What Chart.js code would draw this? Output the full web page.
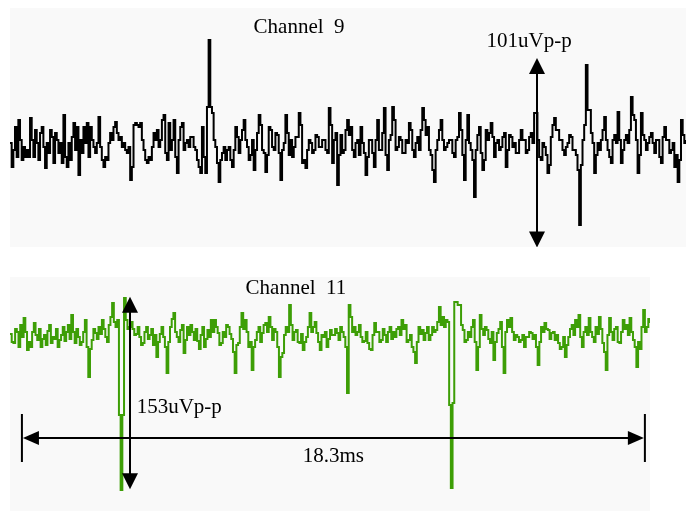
<!DOCTYPE html>
<html>
<head>
<meta charset="utf-8">
<script src="https://cdn.jsdelivr.net/npm/chart.js@4/dist/chart.umd.min.js"></script>
<style>
  body { margin: 0; background: #fff; width: 686px; height: 511px; position: relative; overflow: hidden; }
  .panel { position: absolute; background: #f9f9f9; }
  #p9 { left: 10px; top: 8px; width: 676px; height: 239px; }
  #p11 { left: 10px; top: 277px; width: 640px; height: 234px; }
</style>
</head>
<body>
<div class="panel" id="p9"><canvas id="ch9"></canvas></div>
<div class="panel" id="p11"><canvas id="ch11"></canvas></div>
<script>
// sample step in ms
const DT = 0.05;

// channel 9 amplitude (baseline = 0)
const ch9 = [
  2, -22, -5, 18, -12, 25, 5, -15, -2, -12, -5, -12, 27, 5, -12, 15, 2, -15, 12, 18,
  -2, -23, 2, -8, 15, 8, -18, 12, 5, -8, 2, -18, 30, -12, -22, 2, -15, 8, 22, -5,
  18, -30, 5, -8, 18, 2, 22, -12, 18, 5, -2, -8, 2, 28, -2, -15, -22, -12, -15, 2,
  12, 5, 18, 23, 12, 5, 8, -2, 2, -5, -8, -2, -35, -22, 20, 22, 20, 18, 22, 5,
  -5, -15, -18, -12, -15, -2, 12, 5, 15, -2, 5, 25, 30, -8, -15, 22, -5, 5, 25, -12,
  -28, 5, 18, 22, -5, 2, 5, -2, 8, 8, -2, -5, -15, -22, -28, 18, -12, -28, 38, 105,
  38, 32, 5, -2, -18, -37, -15, -8, -2, -15, -5, -2,
  -15, -22, -5, 18, 8, -8, 5, 15, 25, 5, -2, -15, -10, 5, -25, -5, 12, 30, 20, -5,
  -8, -27, -10, 18, 15, -2, -5, 12, 10, -8, -35, -5, 2, 30, 12, -10, 5, -12, -2, 8,
  8, 32, 20, -18, -15, -23, -5, 5, 2, -8, -5, 10, 8, -2, -2, 5, 5, -5, -8, 37,
  20, -18, 5, 12, -40, -10, 10, -8, -5, 15, 25, 10, 18, -5, -12, 2, 5, -10, 18, 2,
  -8, -30, -12, 5, 5, -8, -22, 5, 25, -5, -5, 12, 37, -10, -25, 5, 10, 38, 25, -5,
  -2, 8, 5, -8, -8, 5, 2, 22, 15, -5, -12, 2, 8, -5, 15, 37, 25, 10, 18, -5,
  -10, -25, -37, -5, 5, 15, 25, 5, -5, -2, 2, 5,
  5, -8, -12, 5, 8, 32, 15, -10, -35, 5, 30, 2, -5, -15, -52, -5, 10, 18, -8, -25,
  -15, 15, 5, 12, 22, 8, -12, 2, 5, -5, -2, 8, 12, -22, -5, 10, 8, -2, 2, -8,
  -8, 5, 15, 5, 5, -8, -5, 8, 12, 2, 32, 32, 5, -12, -15, 2, -2, -10, -28, -20,
  8, 20, 27, 15, 15, 5, 5, -5, -10, -2, 2, 10, 8, -5, -5, -10, -25, -80, -20, 5,
  20, 80, 35, 35, 12, 2, -28, -10, 2, -5, 5, 15, 28, 5, -5, -12, -18, 5, 10, 2,
  33, 5, -18, -5, 5, 10, 2, 15, 48, 30, 25, 5, -28, -10, 32, 10, 5, -5, 2, 8,
  12, 2, -8, 5, 5, -12, -18, 8, 18, 5, 5, -8, -5, 2, -22, -10, -37, -15, 25, 10,
  2, 5
];

// channel 11 amplitude
const ch11 = [
  3, -5, -6, 8, 5, -10, 12, 0, 19, 5, -13, -5, -10, 5, 14, 2, -3, 8, -10, -2,
  2, -8, 6, 12, -6, 0, -2, 8, -10, -3, 2, 10, -4, 5, 12, -2, 22, 5, -6, 8,
  0, -8, -5, 5, 17, -10, -40, -12, -3, 8, 4, -2, 10, 3, 17, 8, 0, -5, 12, 20,
  34, 15, 10, 17, -78, -153, -78, 39, 17, 8, 10, 15, 8, 2, 3, 10, 0, -8, -6, 5,
  10, -2, 2, 8, -8, 2, -20, -5, 3, 10, 0, -10, -36, -5, 10, 18, 24, 5, 0, -5,
  7, 12, -16, -3, 10, 2, 12, 5, -3, 8, -4, -12, 2, 10, -10, -2, 7, 0, 17, 5,
  17, 10, 4, -8, -6, 5, 0, 12, 10, 3,
  -2, -15, -36, -8, -6, 10, 24, 8, 17, 5, -10, -5, -33, -10, -3, 5, 10, -5, 4, 12,
  14, 5, 20, 10, -3, 8, 5, -10, -40, -20, -16, 2, 10, 5, 32, 12, -3, 5, 7, -5,
  -6, 3, -13, -5, 0, 10, 24, 5, 10, 15, 4, -5, -13, 2, 0, 5, -10, -2, 7, 2,
  2, 8, 4, -3, 10, 5, 0, -10, -56, 32, 20, 5, 10, 2, 5, 12, 0, -5, -4, 5,
  -6, -12, -13, 2, 14, 5, 5, -5, -3, 8, 2, -5, 5, 10, -2, 5, 0, 8, 10, 2,
  17, 8, 12, -5, -3, 2, -10, -15, -26, -5, 10, 3, 7, -3, 4, 10, -3, 2, 10, 5,
  7, 15, 30, 12, 20, 10, 17, 15,
  -68, -151, -66, 35, 35, 32, 32, 12, 7, -5, -3, 5, 0, 10, 17, -5, -33, -10, 22, 8,
  2, 10, 7, -2, -6, 5, -23, -5, 4, 8, 15, -10, -36, 5, 17, 10, 19, 5, -3, 2,
  0, -5, -3, 2, -10, 0, 0, 5, 4, -2, 2, -10, -28, -5, 10, 5, 14, 8, 7, -2,
  4, 5, -3, 2, -6, -12, -10, 0, -20, -8, 0, 8, 12, 2, 17, 10, 22, 0, -10, 5,
  10, 2, 19, 5, 0, -5, 10, 3, 20, 8, -6, -15, -33, 2, 19, 5, -3, 8, 10, -5,
  -6, 5, 17, 8, 12, 2, 19, 5, -3, -10, -30, -5, -12, 10, 27, 5, 10, 18, 14
];

const ch9Title = 'Channel  9';
const ch11Title = 'Channel  11';
const ch9Span = '101uVp-p';
const ch11Span = '153uVp-p';
const timeSpan = 18.3; // ms
const timeStart = 0.35;

const FONT = '21px "Liberation Serif", "Times New Roman", serif';

function head(ctx, tx, ty, dx, dy, len, half) {
  ctx.beginPath();
  ctx.moveTo(tx, ty);
  ctx.lineTo(tx - dx * len - dy * half, ty - dy * len + dx * half);
  ctx.lineTo(tx - dx * len + dy * half, ty - dy * len - dx * half);
  ctx.closePath();
  ctx.fill();
}

const marksPlugin = {
  id: 'marks',
  afterDatasetsDraw(chart, args, opts) {
    const { ctx } = chart;
    const x = chart.scales.x, y = chart.scales.y;
    ctx.save();
    ctx.fillStyle = '#000';
    ctx.strokeStyle = '#000';
    ctx.lineWidth = 2;
    (opts.vArrows || []).forEach(a => {
      const px = Math.round(x.getPixelForValue(a.x));
      const top = y.getPixelForValue(a.top), bot = y.getPixelForValue(a.bottom);
      ctx.beginPath();
      ctx.moveTo(px, top + 10);
      ctx.lineTo(px, bot - 10);
      ctx.stroke();
      head(ctx, px, top, 0, -1, 16, 8);
      head(ctx, px, bot, 0, 1, 16, 8);
    });
    (opts.hArrows || []).forEach(a => {
      const py = Math.round(y.getPixelForValue(a.y));
      const l = x.getPixelForValue(a.from), r = x.getPixelForValue(a.to);
      ctx.beginPath();
      ctx.moveTo(l + 10, py);
      ctx.lineTo(r - 10, py);
      ctx.moveTo(l, py - 24);
      ctx.lineTo(l, py + 24);
      ctx.moveTo(r, py - 24);
      ctx.lineTo(r, py + 24);
      ctx.stroke();
      head(ctx, l + 1, py, -1, 0, 16, 7);
      head(ctx, r - 1, py, 1, 0, 16, 7);
    });
    ctx.font = FONT;
    ctx.textBaseline = 'alphabetic';
    (opts.labels || []).forEach(t => {
      ctx.textAlign = t.align || 'center';
      ctx.fillText(t.text, x.getPixelForValue(t.x), y.getPixelForValue(t.y));
    });
    ctx.restore();
  }
};

function makeTrace(id, values, color, yMin, yMax, marks) {
  const pts = values.map((v, i) => ({ x: +(i * DT).toFixed(3), y: v }));
  return new Chart(document.getElementById(id), {
    type: 'line',
    data: {
      datasets: [{
        data: pts,
        borderColor: color,
        borderWidth: 2,
        pointRadius: 0,
        stepped: true,
        fill: false
      }]
    },
    options: {
      responsive: true,
      maintainAspectRatio: false,
      animation: false,
      events: [],
      layout: { padding: 0 },
      plugins: {
        legend: { display: false },
        tooltip: { enabled: false },
        marks: marks
      },
      scales: {
        x: { type: 'linear', display: false, min: 0, max: (values.length - 1) * DT },
        y: { display: false, min: yMin, max: yMax }
      }
    },
    plugins: [marksPlugin]
  });
}

makeTrace('ch9', ch9, '#000000', -102, 137, {
  vArrows: [{ x: 15.8, top: 87, bottom: -102.5 }],
  labels: [
    { text: ch9Title, x: 8.66, y: 112 },
    { text: ch9Span, x: 15.55, y: 98.5 }
  ]
});

makeTrace('ch11', ch11, '#3d9e06', -174, 60, {
  vArrows: [{ x: 3.53, top: 40.3, bottom: -152.3 }],
  hArrows: [{ y: -101.3, from: timeStart, to: timeStart + timeSpan }],
  labels: [
    { text: ch11Title, x: 8.4, y: 42.7 },
    { text: ch11Span, x: 3.72, y: -76, align: 'left' },
    { text: timeSpan + 'ms', x: timeStart + timeSpan / 2, y: -124.7 }
  ]
});
</script>
</body>
</html>
